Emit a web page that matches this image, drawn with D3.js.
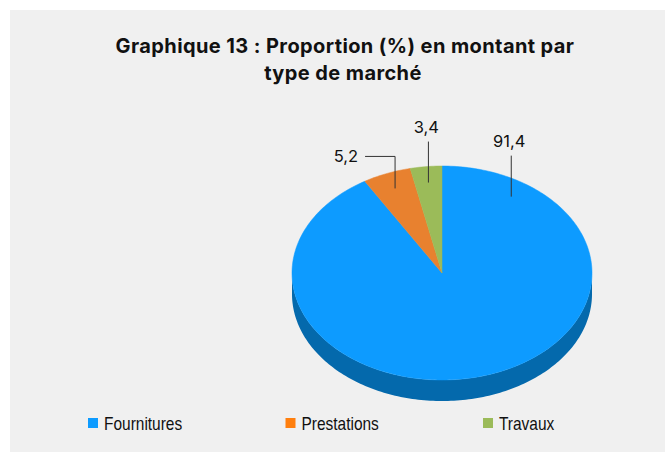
<!DOCTYPE html>
<html>
<head>
<meta charset="utf-8">
<script src="https://cdn.jsdelivr.net/npm/d3@7"></script>
<style>
  body { margin: 0; background: #ffffff; }
  svg { display: block; }
</style>
</head>
<body>
<svg id="chart"></svg>
<script>
// data
var categories = ["Fournitures", "Prestations", "Travaux"];
var values = [91.4, 5.2, 3.4];
var labels = ["91,4", "5,2", "3,4"];

var width = 665, height = 452;
var topColors = ["#0d9bff", "#e8812f", "#9bbb59"];
var sideColors = ["#0469ac", "#a85a1c", "#6f8a3c"];
var legendColors = ["#0d9bff", "#ff7f0e", "#9bbb59"];

// pie geometry
var cx = 442, cy = 273, rx = 150, ry = 107, depth = 21;

var svg = d3.select("#chart")
    .attr("width", width)
    .attr("height", height);

svg.append("rect")
    .attr("x", 10).attr("y", 10)
    .attr("width", width - 10).attr("height", height - 10)
    .attr("fill", "#f0f0f0");

var title = svg.append("text")
    .attr("text-anchor", "middle")
    .style("font-family", "Inter, sans-serif")
    .style("font-weight", "bold")
    .style("font-size", "20px")
    .style("letter-spacing", "0.4px")
    .style("fill", "#111");
title.append("tspan").attr("x", 345).attr("y", 53).text("Graphique 13 : Proportion (%) en montant par");
title.append("tspan").attr("x", 343).attr("y", 80).text("type de marché");

var pie = d3.pie().sort(null).startAngle(0).endAngle(2 * Math.PI);
var arcs = pie(values);

function pt(a, k, dy) {
    k = k || 1; dy = dy || 0;
    return [cx + rx * k * Math.sin(a), cy - ry * k * Math.cos(a) + dy];
}

function arcPoints(a0, a1, dy) {
    var n = Math.max(2, Math.ceil((a1 - a0) / 0.02));
    return d3.range(n + 1).map(function (i) { return pt(a0 + (a1 - a0) * i / n, 1, dy) });
}

var line = d3.line();

// front side of the pie (visible between 90 and 270 degrees)
arcs.forEach(function (d, i) {
    var a0 = Math.max(d.startAngle, Math.PI / 2);
    var a1 = Math.min(d.endAngle, Math.PI * 1.5);
    if (a1 <= a0) return;
    var top = arcPoints(a0, a1, 0);
    var bottom = arcPoints(a0, a1, depth).reverse();
    svg.append("path")
        .attr("d", line(top.concat(bottom)) + "Z")
        .attr("fill", sideColors[i]);
});

// top faces
arcs.forEach(function (d, i) {
    var pts = [[cx, cy]].concat(arcPoints(d.startAngle, d.endAngle, 0));
    svg.append("path")
        .attr("d", line(pts) + "Z")
        .attr("fill", topColors[i])
        .attr("stroke", topColors[i])
        .attr("stroke-width", 0.5);
});

// data labels with leader lines
var labelLayout = [
    { at: 0.1, k: 0.85, rise: 41, elbow: 0 },
    { at: 0.5, k: 0.85, rise: 32, elbow: 30 },
    { at: 0.5, k: 0.85, rise: 41, elbow: 0 }
];

arcs.forEach(function (d, i) {
    var L = labelLayout[i];
    var a = d.startAngle + (d.endAngle - d.startAngle) * L.at;
    var p = pt(a, L.k);
    var g = svg.append("g");
    var pts = [p, [p[0], p[1] - L.rise]];
    if (L.elbow) pts.push([p[0] - L.elbow, p[1] - L.rise]);
    g.append("path")
        .attr("d", line(pts))
        .attr("fill", "none")
        .attr("stroke", "#333")
        .attr("stroke-width", 1);
    var end = pts[pts.length - 1];
    var t = g.append("text")
        .style("font-family", "Inter, sans-serif")
        .style("font-size", "16.5px")
        .style("fill", "#111")
        .text(labels[i]);
    if (L.elbow) {
        t.attr("x", end[0] - 7).attr("y", end[1] + 6).attr("text-anchor", "end");
    } else {
        t.attr("x", end[0] - 2).attr("y", end[1] - 9).attr("text-anchor", "middle");
    }
});

// legend
var legendX = d3.scalePoint().domain(categories).range([88, 483]);
var legend = svg.selectAll(".legend")
    .data(categories)
    .enter().append("g")
    .attr("class", "legend")
    .attr("transform", function (d) { return "translate(" + legendX(d) + ",418)" });

legend.append("rect")
    .attr("width", 10).attr("height", 10)
    .attr("fill", function (d, i) { return legendColors[i] });

// narrow face: squeeze Liberation Sans horizontally
legend.append("text")
    .attr("transform", "translate(16,11.5) scale(0.86,1)")
    .style("font-family", "'Liberation Sans', sans-serif")
    .style("font-size", "18px")
    .style("fill", "#111")
    .text(function (d) { return d });
</script>
</body>
</html>
